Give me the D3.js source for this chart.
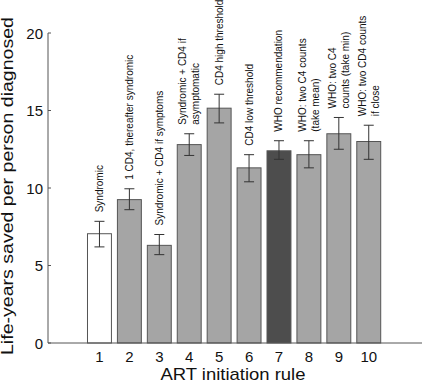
<!DOCTYPE html>
<html>
<head>
<meta charset="utf-8">
<script src="https://cdn.jsdelivr.net/npm/d3@7"></script>
<style>
	body { margin: 0; background: #fff; }
	svg { display: block; font-family: "Liberation Sans", Arial, sans-serif; }
</style>
</head>
<body>
<div id="chart"></div>
<script>
var WIDTH = 422;
var HEIGHT = 383;

// data
var rules = [1, 2, 3, 4, 5, 6, 7, 8, 9, 10];
var lifeYears = [7.05, 9.25, 6.3, 12.8, 15.15, 11.3, 12.4, 12.15, 13.5, 13.0];
var errLow = [6.2, 8.6, 5.7, 12.1, 14.2, 10.4, 11.85, 11.3, 12.5, 11.85];
var errHigh = [7.85, 9.95, 7.0, 13.5, 16.05, 12.15, 13.05, 13.05, 14.55, 14.05];
var ruleLabels = [
	["Syndromic"],
	["1 CD4, thereafter syndromic"],
	["Syndromic + CD4 if symptoms"],
	["Syndromic + CD4 if", "asymptomatic"],
	["CD4 high threshold"],
	["CD4 low threshold"],
	["WHO recommendation"],
	["WHO: two C4 counts", "(take mean)"],
	["WHO: two C4", "counts (take min)"],
	["WHO: two CD4 counts", "if close"]
];
var barKind = ["base", "alt", "alt", "alt", "alt", "alt", "who", "alt", "alt", "alt"];
var yTicks = [0, 5, 10, 15, 20];

var fillFor = { base: "#ffffff", alt: "#a5a5a5", who: "#4d4d4d" };

var margin = { top: 33, right: 0, bottom: 40, left: 48 };
var plotWidth = WIDTH - margin.left - margin.right;
var plotHeight = HEIGHT - margin.top - margin.bottom;

var svg = d3.select("#chart")
	.append("svg")
	.attr("width", WIDTH)
	.attr("height", HEIGHT);

var inner = svg.append("g")
	.attr("transform", `translate(${margin.left},${margin.top})`);

var xScale = d3.scaleLinear().domain([-0.72, 11.78]).range([0, plotWidth]);
var yScale = d3.scaleLinear().domain([0, 20]).range([plotHeight, 0]);
var barW = xScale(0.8) - xScale(0);

var rows = rules.map((r, i) => ({
	rule: r, value: lifeYears[i], lo: errLow[i], hi: errHigh[i],
	label: ruleLabels[i], kind: barKind[i]
}));

// bars
inner.selectAll(".bar")
	.data(rows)
	.join("rect")
	.attr("class", "bar")
	.attr("x", d => xScale(d.rule) - barW / 2)
	.attr("y", d => yScale(d.value))
	.attr("width", barW)
	.attr("height", d => yScale(0) - yScale(d.value))
	.attr("fill", d => fillFor[d.kind])
	.attr("stroke", "#555")
	.attr("stroke-width", 1);

// error bars
var err = inner.selectAll(".err")
	.data(rows)
	.join("g")
	.attr("class", "err")
	.attr("stroke", "#333")
	.attr("stroke-width", 1);
err.append("line")
	.attr("x1", d => xScale(d.rule)).attr("x2", d => xScale(d.rule))
	.attr("y1", d => yScale(d.lo)).attr("y2", d => yScale(d.hi));
err.append("line")
	.attr("x1", d => xScale(d.rule) - 5).attr("x2", d => xScale(d.rule) + 5)
	.attr("y1", d => yScale(d.lo)).attr("y2", d => yScale(d.lo));
err.append("line")
	.attr("x1", d => xScale(d.rule) - 5).attr("x2", d => xScale(d.rule) + 5)
	.attr("y1", d => yScale(d.hi)).attr("y2", d => yScale(d.hi));

// rotated rule labels above the error bars
var lab = inner.selectAll(".rule-label")
	.data(rows)
	.join("text")
	.attr("class", "rule-label")
	.attr("transform", d => `translate(${xScale(d.rule)},${yScale(d.hi) - 9}) rotate(-90)`)
	.style("font-size", "10px")
	.attr("fill", "#111");
lab.each(function (d) {
	var n = d.label.length;
	d3.select(this).selectAll("tspan")
		.data(d.label)
		.join("tspan")
		.attr("x", 0)
		.attr("y", (t, j) => (j - (n - 1) / 2) * 13 + 3.5)
		.text(t => t);
});

// axes
var axisColor = "#555";
inner.append("line")
	.attr("x1", 0).attr("x2", 0)
	.attr("y1", 0).attr("y2", plotHeight)
	.attr("stroke", axisColor);
inner.append("line")
	.attr("x1", 0).attr("x2", plotWidth)
	.attr("y1", plotHeight).attr("y2", plotHeight)
	.attr("stroke", axisColor);

inner.selectAll(".ytick")
	.data(yTicks)
	.join("line")
	.attr("class", "ytick")
	.attr("x1", 0).attr("x2", 3)
	.attr("y1", d => yScale(d)).attr("y2", d => yScale(d))
	.attr("stroke", axisColor);

inner.selectAll(".ylab")
	.data(yTicks)
	.join("text")
	.attr("class", "ylab")
	.attr("x", -5)
	.attr("y", d => yScale(d) + 5.5)
	.attr("text-anchor", "end")
	.style("font-size", "15px")
	.attr("fill", "#111")
	.text(d => d);

inner.selectAll(".xlab")
	.data(rules)
	.join("text")
	.attr("class", "xlab")
	.attr("x", d => xScale(d))
	.attr("y", plotHeight + 19)
	.attr("text-anchor", "middle")
	.style("font-size", "15px")
	.attr("fill", "#111")
	.text(d => d);

// titles
svg.append("text")
	.attr("x", 233)
	.attr("y", 380)
	.attr("text-anchor", "middle")
	.attr("textLength", 145)
	.attr("lengthAdjust", "spacingAndGlyphs")
	.style("font-size", "17px")
	.attr("fill", "#111")
	.text("ART initiation rule");

svg.append("text")
	.attr("transform", `translate(13,${margin.top + plotHeight / 2 - 2}) rotate(-90)`)
	.attr("text-anchor", "middle")
	.attr("textLength", 338)
	.attr("lengthAdjust", "spacingAndGlyphs")
	.style("font-size", "16px")
	.attr("fill", "#111")
	.text("Life-years saved per person diagnosed");
</script>
</body>
</html>
